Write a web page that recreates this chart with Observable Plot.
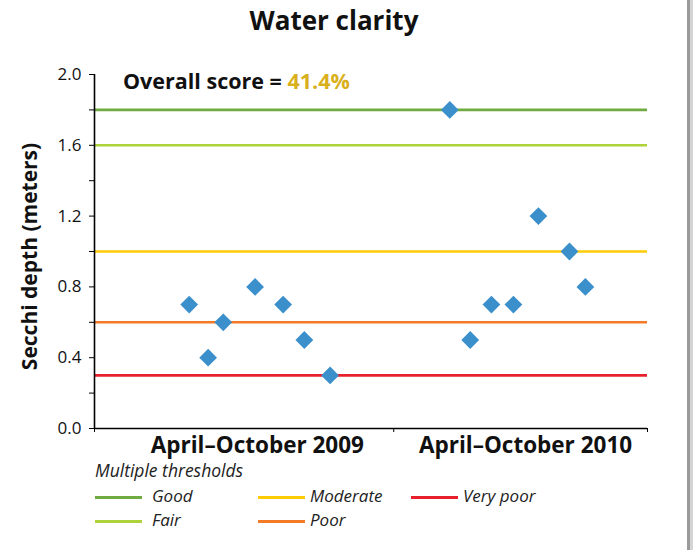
<!DOCTYPE html>
<html>
<head>
<meta charset="utf-8">
<script src="https://cdn.jsdelivr.net/npm/d3@7"></script>
<script src="https://cdn.jsdelivr.net/npm/@observablehq/plot@0.6"></script>
<style>
  html, body { margin: 0; padding: 0; background: #fff; }
  #wrap { position: relative; width: 693px; height: 550px; overflow: hidden; font-family: "Open Sans", "Noto Sans", sans-serif; }
  #chart { position: absolute; left: 0; top: 0; }
  .abs { position: absolute; white-space: nowrap; }
  #title { left: 0; width: 668px; top: 2px; text-align: center; font-weight: bold; font-size: 26px; color: #111; }
  #score { left: 123px; top: 66px; font-weight: bold; font-size: 21.5px; color: #111; }
  #score span { color: #d9b01c; }
  #legtitle { left: 95px; top: 458px; font-style: italic; font-size: 17.5px; color: #222; }
  .leg { position: absolute; font-style: italic; font-size: 17px; color: #222; white-space: nowrap; }
  .sw { position: absolute; width: 47px; height: 2.5px; }
  #edge { position: absolute; left: 687px; top: 0; width: 3px; height: 550px; background: #9a9a9a; }
  #edge2 { position: absolute; left: 690px; top: 0; width: 3px; height: 550px; background: #d4d4d4; }
</style>
</head>
<body>
<div id="wrap">
  <div id="chart"></div>
  <div id="title" class="abs"></div>
  <div id="score" class="abs"></div>
  <div id="legtitle" class="abs"></div>
  <div id="legend"></div>
  <div id="edge"></div><div id="edge2"></div>
</div>
<script>
// ---- data ----
const chartTitle = "Water clarity";
const yLabel = "Secchi depth (meters)";
const scoreLabel = "Overall score = ";
const scoreValue = "41.4%";
const legendTitle = "Multiple thresholds";

const categories = ["April–October 2009", "April–October 2010"];
const categoryCenters = ["2009-07-05", "2010-06-24"];

const sampleDates2009 = ["2009-04-06", "2009-05-01", "2009-05-21", "2009-07-02", "2009-08-08", "2009-09-05", "2009-10-09"];
const depth2009 = [0.7, 0.4, 0.6, 0.8, 0.7, 0.5, 0.3];
const sampleDates2010 = ["2010-03-16", "2010-04-12", "2010-05-10", "2010-06-08", "2010-07-11", "2010-08-21", "2010-09-11"];
const depth2010 = [1.8, 0.5, 0.7, 0.7, 1.2, 1.0, 0.8];

const thresholdNames = ["Good", "Fair", "Moderate", "Poor", "Very poor"];
const thresholdValues = [1.8, 1.6, 1.0, 0.6, 0.3];
const thresholdColors = ["#6fab41", "#aed23a", "#ffcb05", "#f37b27", "#e8202b"];

const xDomain = ["2008-12-02", "2010-12-02"];
const xTicks = ["2008-12-02", "2010-01-01", "2010-12-02"];
const yMajorTicks = [0, 0.4, 0.8, 1.2, 1.6, 2.0];
const yMinorTicks = [0.2, 0.6, 1.0, 1.4, 1.8];

// ---- build tables ----
const toDate = s => new Date(s + "T00:00:00Z");
const samples = [
  ...sampleDates2009.map((d, i) => ({date: toDate(d), depth: depth2009[i]})),
  ...sampleDates2010.map((d, i) => ({date: toDate(d), depth: depth2010[i]}))
];
const thresholds = thresholdNames.map((n, i) => ({name: n, value: thresholdValues[i], color: thresholdColors[i]}));
const catTable = categories.map((c, i) => ({label: c, date: toDate(categoryCenters[i])}));
const dom = xDomain.map(toDate);

const plot = Plot.plot({
  width: 693,
  height: 550,
  marginTop: 74,
  marginBottom: 122,
  marginLeft: 94,
  marginRight: 46,
  style: {fontFamily: "'Open Sans', 'Noto Sans', sans-serif", background: "transparent", color: "#111"},
  x: {type: "utc", domain: dom},
  y: {domain: [0, 2]},
  marks: [
    Plot.ruleY(thresholds, {y: "value", stroke: "color", strokeWidth: 2.6}),
    Plot.ruleX([dom[0]], {y1: 0, y2: 2, stroke: "#000", strokeWidth: 1.6}),
    Plot.ruleY([0], {stroke: "#000", strokeWidth: 1.6}),
    Plot.axisY({ticks: yMajorTicks, tickFormat: d3.format(".1f"), tickSize: 5, tickPadding: 8, fontSize: 17, label: null, stroke: "#000"}),
    Plot.axisY({ticks: yMinorTicks, tickFormat: () => "", tickSize: 5, label: null, stroke: "#000"}),
    Plot.axisX({ticks: xTicks.map(toDate), tickFormat: () => "", tickSize: 4, label: null, stroke: "#000"}),
    Plot.text(catTable, {x: "date", y: 0, text: "label", dy: 17, fontSize: 22.5, fontWeight: "bold", fill: "#111"}),
    Plot.text([yLabel], {frameAnchor: "left", textAnchor: "middle", rotate: -90, dx: -64, dy: 5, fontSize: 21, fontWeight: "bold", fill: "#111"}),
    Plot.dot(samples, {x: "date", y: "depth", symbol: "diamond2", r: 8, fill: "#3b8fcb", stroke: "none"})
  ]
});
document.getElementById("chart").appendChild(plot);

document.getElementById("title").textContent = chartTitle;
const sc = document.getElementById("score");
sc.textContent = scoreLabel;
const sp = document.createElement("span"); sp.textContent = scoreValue; sc.appendChild(sp);
document.getElementById("legtitle").textContent = legendTitle;

// legend layout: [col, row]
const legPos = [[0, 0], [0, 1], [1, 0], [1, 1], [2, 0]];
const colX = [95, 258, 411];
const colTextX = [152, 310, 463];
const rowY = [497, 521];
const leg = document.getElementById("legend");
thresholds.forEach((t, i) => {
  const [c, r] = legPos[i];
  const sw = document.createElement("div");
  sw.className = "sw";
  sw.style.left = colX[c] + "px";
  sw.style.top = (rowY[r] - 1) + "px";
  sw.style.background = t.color;
  leg.appendChild(sw);
  const tx = document.createElement("div");
  tx.className = "leg";
  tx.style.left = colTextX[c] + "px";
  tx.style.top = (rowY[r] - 13) + "px";
  tx.textContent = t.name;
  leg.appendChild(tx);
});
</script>
</body>
</html>
